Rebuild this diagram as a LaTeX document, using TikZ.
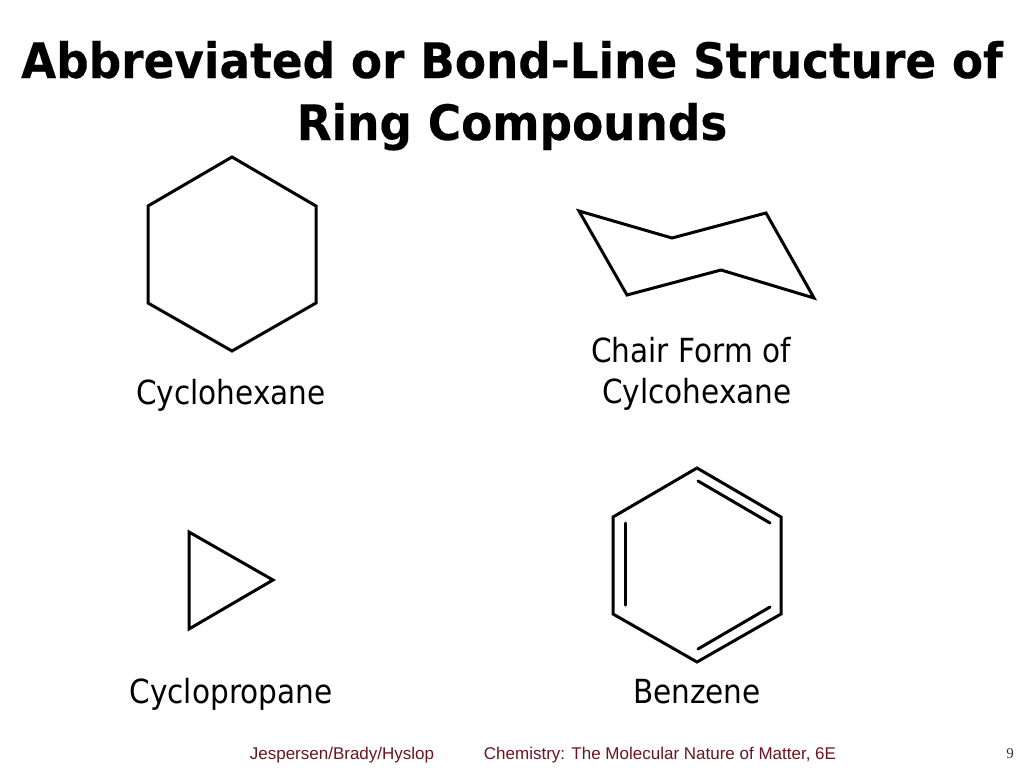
\documentclass[tikz,border=0pt]{standalone}
\usepackage{fontspec}
\setmainfont[FakeStretch=0.89]{DejaVu Sans}
\newfontfamily\titlefont[FakeStretch=0.93,BoldFeatures={FakeBold=0.25}]{DejaVu Sans}
\newfontfamily\footfont{Liberation Sans}
\newfontfamily\numfont{Liberation Serif}
\begin{document}
\begin{tikzpicture}[x=1pt,y=-1pt,
  bond/.style={line width=3pt,line join=miter,line cap=round},
  title/.style={font=\titlefont\bfseries\fontsize{48.8}{50}\selectfont,inner sep=0,anchor=base},
  label/.style={font=\fontsize{33.2}{36}\selectfont,inner sep=0,anchor=base,text=black},
  foot/.style={font=\footfont\fontsize{17}{20}\selectfont,inner sep=0,text={rgb,255:red,110;green,20;blue,30},anchor=base}]
\useasboundingbox (0,0) rectangle (1024,768);
\fill[white] (0,0) rectangle (1024,768);
\node[title] (t1) at (512,78) {Abbreviated or Bond-Line Structure of};
\node[title] (t2) at (512,140) {Ring Compounds};
\draw[bond] (232,157) -- (316,206) -- (316,303) -- (232,351) -- (148,303) -- (148,206) -- cycle;
\draw[bond] (579,211) -- (672,238) -- (766,213) -- (814,298) -- (721,270) -- (627,295) -- cycle;
\draw[bond] (189,532) -- (273,580) -- (189,629) -- cycle;
\draw[bond] (697,468) -- (781,517) -- (781,614) -- (697,662) -- (613,614) -- (613,517) -- cycle;
\draw[bond] (698,481) -- (770,523);
\draw[bond] (770,607) -- (698,649);
\draw[bond] (625,605) -- (625,523);
\node[label] (a) at (231,404) {Cyclohexane};
\node[label] (b) at (691,362) {Chair Form of};
\node[label] (c) at (697,403) {Cylcohexane};
\node[label] (d) at (231,703) {Cyclopropane};
\node[label] (e) at (697,703) {Benzene};
\node[foot] (f) at (342,759) {Jespersen/Brady/Hyslop};
\node[foot] (g) at (660,759) {Chemistry: The Molecular Nature of Matter, 6E};
\node[font=\numfont\fontsize{15}{18}\selectfont,inner sep=0,text=black!80,anchor=base] (n) at (1010,758) {9};
\end{tikzpicture}
\end{document}
